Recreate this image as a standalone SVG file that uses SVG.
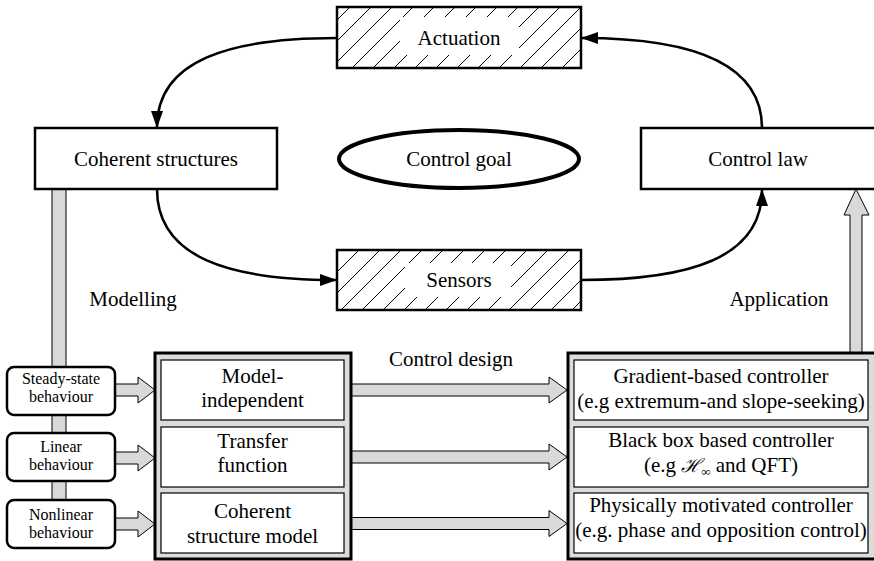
<svg xmlns="http://www.w3.org/2000/svg" width="874" height="561" viewBox="0 0 874 561">
<defs>
<pattern id="hatch" patternUnits="userSpaceOnUse" width="21" height="21">
<path d="M-5,5 L5,-5 M0,21 L21,0 M16,26 L26,16" stroke="#000" stroke-width="1"/>
</pattern>
<marker id="ah" markerWidth="17" markerHeight="12" refX="16" refY="6" orient="auto" markerUnits="userSpaceOnUse">
<path d="M0,0 L17,6 L0,12 Z" fill="#000"/>
</marker>
<style>
text{fill:#000;text-anchor:middle}
.box{fill:#fff;stroke:#000;stroke-width:2.5}
.hb{fill:url(#hatch);stroke:#000;stroke-width:2.5}
.sub{fill:#fff;stroke:#000;stroke-width:1.2}
.outer{fill:#dcdcdc;stroke:#000;stroke-width:3}
.garrow{fill:#d9d9d9;stroke:#000;stroke-width:1}
.conn{fill:none;stroke:#000;stroke-width:2.5}
</style>
</defs>
<rect width="874" height="561" fill="#fff"/>

<g id="connectors">
<path class="conn" d="M337,38 C230,38 157,60 157,127" marker-end="url(#ah)"/>
<path class="conn" d="M762,128 C762,62 690,38 582,38" marker-end="url(#ah)"/>
<path class="conn" d="M157,189 C157,258 230,280 336,280" marker-end="url(#ah)"/>
<path class="conn" d="M581,280 C690,280 762,258 762,190" marker-end="url(#ah)"/>
<rect class="garrow" x="52" y="189" width="14" height="312"/>
<path class="garrow" d="M850,353 L850,215 L844,215 L856,189 L869,215 L862,215 L862,353 Z"/>
<path class="garrow" d="M115,384 L138,384 L138,377 L155,390 L138,403 L138,396 L115,396 Z"/>
<path class="garrow" d="M115,452 L138,452 L138,445 L155,458 L138,471 L138,464 L115,464 Z"/>
<path class="garrow" d="M115,518 L138,518 L138,511 L155,524 L138,537 L138,530 L115,530 Z"/>
<path class="garrow" d="M351,384 L549,384 L549,377 L567,390 L549,403 L549,396 L351,396 Z"/>
<path class="garrow" d="M351,451 L549,451 L549,444 L567,457 L549,470 L549,463 L351,463 Z"/>
<path class="garrow" d="M351,517.5 L549,517.5 L549,510.5 L567,523.5 L549,536.5 L549,529.5 L351,529.5 Z"/>
</g>

<g id="actuation">
<rect class="hb" x="337" y="7" width="244" height="61"/>
<rect x="400" y="17" width="119" height="38" fill="#fff"/>
<text font-family="Liberation Serif" font-size="21" x="459" y="45">Actuation</text>
</g>

<g id="coherent-structures">
<rect class="box" x="35" y="128" width="242" height="61"/>
<text font-family="Liberation Serif" font-size="21" x="156" y="166">Coherent structures</text>
</g>

<g id="control-goal">
<ellipse cx="459" cy="159" rx="120" ry="29" fill="#fff" stroke="#000" stroke-width="4"/>
<text font-family="Liberation Serif" font-size="21" x="459" y="166">Control goal</text>
</g>

<g id="control-law">
<rect class="box" x="641" y="128" width="240" height="61"/>
<text font-family="Liberation Serif" font-size="21" x="758" y="166">Control law</text>
</g>

<g id="sensors">
<rect class="hb" x="337" y="250" width="244" height="60"/>
<rect x="405" y="263" width="106" height="34" fill="#fff"/>
<text font-family="Liberation Serif" font-size="21" x="459" y="287">Sensors</text>
</g>

<g id="labels">
<text font-family="Liberation Serif" font-size="21" x="133" y="306">Modelling</text>
<text font-family="Liberation Serif" font-size="21" x="779" y="306">Application</text>
<text font-family="Liberation Serif" font-size="21" x="451" y="366">Control design</text>
</g>

<g id="steady-state">
<rect class="box" x="7" y="367" width="108" height="48" rx="7"/>
<text font-family="Liberation Serif" font-size="16" x="61" y="384">Steady-state</text>
<text font-family="Liberation Serif" font-size="16" x="61" y="402">behaviour</text>
</g>
<g id="linear">
<rect class="box" x="7" y="433" width="108" height="48" rx="7"/>
<text font-family="Liberation Serif" font-size="16" x="61" y="452">Linear</text>
<text font-family="Liberation Serif" font-size="16" x="61" y="470">behaviour</text>
</g>
<g id="nonlinear">
<rect class="box" x="7" y="500" width="108" height="48" rx="7"/>
<text font-family="Liberation Serif" font-size="16" x="61" y="520">Nonlinear</text>
<text font-family="Liberation Serif" font-size="16" x="61" y="538">behaviour</text>
</g>

<g id="models">
<rect class="outer" x="155" y="353" width="196" height="206"/>
<g id="model-independent">
<rect class="sub" x="161" y="360" width="183" height="60"/>
<text font-family="Liberation Serif" font-size="21" x="252.5" y="383">Model-</text>
<text font-family="Liberation Serif" font-size="21" x="252.5" y="407">independent</text>
</g>
<g id="transfer-function">
<rect class="sub" x="161" y="427" width="183" height="60"/>
<text font-family="Liberation Serif" font-size="21" x="252.5" y="448">Transfer</text>
<text font-family="Liberation Serif" font-size="21" x="252.5" y="472">function</text>
</g>
<g id="coherent-structure-model">
<rect class="sub" x="161" y="493" width="183" height="60"/>
<text font-family="Liberation Serif" font-size="21" x="252.5" y="518">Coherent</text>
<text font-family="Liberation Serif" font-size="21" x="252.5" y="543">structure model</text>
</g>
</g>

<g id="controllers">
<rect class="outer" x="568" y="353" width="310" height="206"/>
<g id="gradient-based">
<rect class="sub" x="574" y="360" width="294" height="60"/>
<text font-family="Liberation Serif" font-size="21" x="721" y="383">Gradient-based controller</text>
<text font-family="Liberation Serif" font-size="21" x="721" y="408">(e.g extremum-and slope-seeking)</text>
</g>
<g id="black-box">
<rect class="sub" x="574" y="427" width="294" height="60"/>
<text font-family="Liberation Serif" font-size="21" x="721" y="447">Black box based controller</text>
<text font-family="Liberation Serif" font-size="21" x="721" y="472">(e.g <tspan font-family="DejaVu Serif" font-style="italic" font-size="19">ℋ</tspan><tspan font-size="13" dy="4">∞</tspan><tspan dy="-4"> and QFT)</tspan></text>
</g>
<g id="physically-motivated">
<rect class="sub" x="574" y="493" width="294" height="60"/>
<text font-family="Liberation Serif" font-size="21" x="721" y="512">Physically motivated controller</text>
<text font-family="Liberation Serif" font-size="21" x="721" y="537">(e.g. phase and opposition control)</text>
</g>
</g>
</svg>
